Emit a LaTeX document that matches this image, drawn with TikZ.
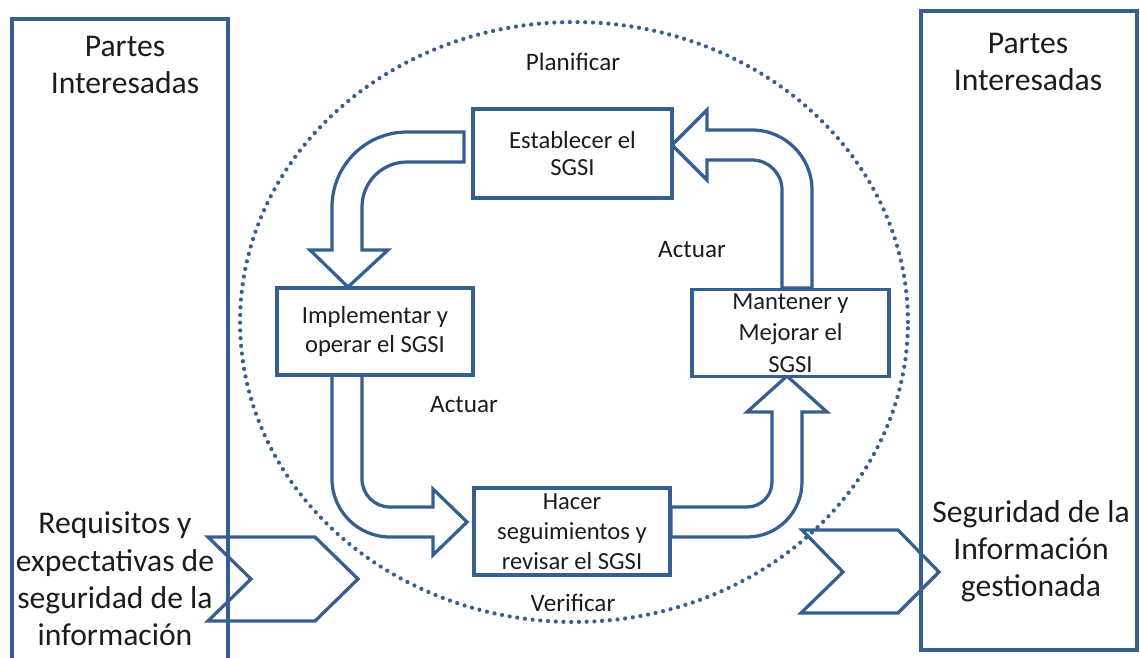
\documentclass[tikz,border=0pt]{standalone}
\usepackage{fontspec}
\setmainfont{Carlito}
\usetikzlibrary{shapes.geometric}
\definecolor{lineblue}{RGB}{54,95,145}
\definecolor{ink}{RGB}{28,28,28}
\begin{document}
\begin{tikzpicture}[x=0.02cm,y=-0.02cm,
  outline/.style={draw=lineblue,line width=1.85pt,line join=miter},
  blockarrow/.style={outline,fill=white},
  stagebox/.style={outline,fill=white,rectangle,inner sep=0pt,align=center,text=ink,
    font=\fontsize{14}{16.5}\selectfont},
  sidepanel/.style={outline,rectangle,inner sep=0pt},
  bigtext/.style={align=center,text=ink,font=\fontsize{18}{21.2}\selectfont},
  phaselabel/.style={text=ink,font=\fontsize{14.3}{17}\selectfont},
  dotline/.style={draw=lineblue,line width=2.4pt,line cap=round,dash pattern=on 0pt off 4.4pt}]

\clip (0,0) rectangle (1140,657);

% dotted cycle boundary
\node[ellipse,dotline,minimum width=13.36cm,minimum height=12cm,inner sep=0pt] (ciclo) at (574,322) {};

% stakeholder panels
\node[sidepanel,minimum width=4.32cm,minimum height=13.4cm] (izq) at (120,354) {};
\node[sidepanel,minimum width=4.32cm,minimum height=12.78cm] (der) at (1029,330.5) {};

% input / output chevrons
\draw[outline] (208,537) -- (315,537) -- (358,579) -- (315,621) -- (208,621) -- (251,579) -- cycle;
\draw[outline] (802,530) -- (898,530) -- (939,572) -- (898,613) -- (801,613) -- (843,572) -- cycle;

% Establecer -> Implementar
\draw[blockarrow] (464,132) -- (407,132)
  .. controls (365.6,132) and (332,165.6) .. (332,207) -- (332,250)
  -- (310,250) -- (348,287) -- (388,250) -- (362,250) -- (362,207)
  .. controls (362,182.1) and (382.1,162) .. (407,162) -- (464,162) -- cycle;

% Implementar -> Hacer
\draw[blockarrow] (332,375) -- (332,479)
  .. controls (332,511) and (358,537) .. (390,537) -- (433,537)
  -- (433,555) -- (467,522) -- (433,489) -- (433,507) -- (390,507)
  .. controls (374.5,507) and (362,494.5) .. (362,479) -- (362,375) -- cycle;

% Hacer -> Mantener
\draw[blockarrow] (671,507) -- (747,507)
  .. controls (760.8,507) and (772,495.8) .. (772,482) -- (772,412)
  -- (747,412) -- (787,376) -- (827,412) -- (802,412) -- (802,482)
  .. controls (802,512.4) and (777.4,537) .. (747,537) -- (671,537) -- cycle;

% Mantener -> Establecer
\draw[blockarrow] (782,288) -- (782,190)
  .. controls (782,173.4) and (768.6,160) .. (752,160) -- (707,160)
  -- (707,180) -- (672,145) -- (707,110) -- (707,130) -- (752,130)
  .. controls (785.1,130) and (812,156.9) .. (812,190) -- (812,288) -- cycle;

% process stages
\node[stagebox,minimum width=3.98cm,minimum height=1.78cm,font=\fontsize{14}{15}\selectfont]
  (establecer) at (572.5,153.5) {Establecer el\\SGSI};
\node[stagebox,minimum width=3.92cm,minimum height=1.74cm]
  (implementar) at (375,331.5) {Implementar y\\operar el SGSI};
\node[stagebox,minimum width=3.94cm,minimum height=1.74cm,font=\fontsize{14}{18}\selectfont]
  (mantener) at (790.5,333) {Mantener y\\Mejorar el\\SGSI};
\node[stagebox,minimum width=3.92cm,minimum height=1.74cm,font=\fontsize{14}{17}\selectfont]
  (hacer) at (572,531.5) {Hacer\\seguimientos y\\revisar el SGSI};

% phase labels
\node[phaselabel] (planificar) at (573,62) {Planificar};
\node[phaselabel] (actuarsup) at (692,250) {Actuar};
\node[phaselabel] (actuarinf) at (464,405) {Actuar};
\node[phaselabel] (verificar) at (573,603) {Verificar};

% panel texts
\node[bigtext] (partesizq) at (125,65) {Partes\\Interesadas};
\node[bigtext] (partesder) at (1028,62) {Partes\\Interesadas};
\node[bigtext] (requisitos) at (115,579) {Requisitos y\\expectativas de\\seguridad de la\\información};
\node[bigtext] (seguridad) at (1031,551) {Seguridad de la\\Información\\gestionada};
\end{tikzpicture}
\end{document}
